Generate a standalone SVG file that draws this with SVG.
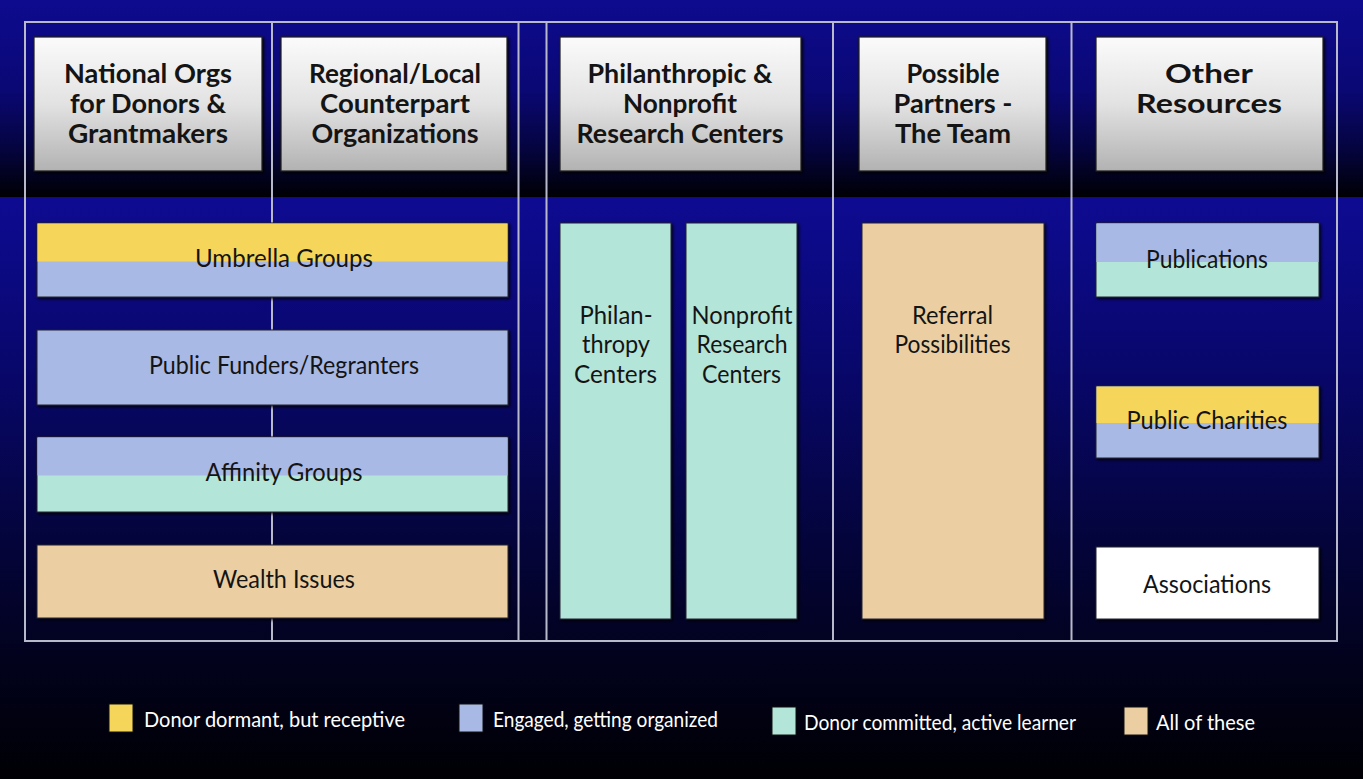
<svg xmlns="http://www.w3.org/2000/svg" width="1363" height="779" viewBox="0 0 1363 779">
  <defs>
    <linearGradient id="bgTop" gradientUnits="userSpaceOnUse" x1="0" y1="0" x2="0" y2="197">
      <stop offset="0" stop-color="#0e0b8f"/>
      <stop offset="0.45" stop-color="#0a0874"/>
      <stop offset="0.75" stop-color="#050440"/>
      <stop offset="1" stop-color="#000004"/>
    </linearGradient>
    <linearGradient id="bgBottom" gradientUnits="userSpaceOnUse" x1="0" y1="197" x2="0" y2="779">
      <stop offset="0" stop-color="#0e0b92"/>
      <stop offset="0.3" stop-color="#08076a"/>
      <stop offset="0.6" stop-color="#04043a"/>
      <stop offset="0.8" stop-color="#02021c"/>
      <stop offset="1" stop-color="#000004"/>
    </linearGradient>
    <linearGradient id="headFill" x1="0" y1="0" x2="0" y2="1">
      <stop offset="0" stop-color="#fbfbfb"/>
      <stop offset="0.5" stop-color="#e2e2e2"/>
      <stop offset="1" stop-color="#b2b2b2"/>
    </linearGradient>
    <filter id="shadow" x="-10%" y="-10%" width="125%" height="125%">
      <feDropShadow dx="1.5" dy="1.5" stdDeviation="1.5" flood-color="#000" flood-opacity="0.9"/>
    </filter>
  </defs>
  <style>
    .frame { stroke: #b9b9cc; stroke-width: 2; fill: none; }
    .head { fill: url(#headFill); stroke: #1c1c1c; stroke-width: 1.2; filter: url(#shadow); }
    .headText { font-family: Lato, "Liberation Sans", sans-serif; font-weight: 700; font-size: 27px; fill: #141414; text-anchor: middle; }
    .box { stroke: #202030; stroke-width: 1; filter: url(#shadow); }
    .band { stroke: none; }
    .label { font-family: Lato, "Liberation Sans", sans-serif; font-size: 25px; fill: #141414; text-anchor: middle; }
    .yellow { fill: #f6d65a; }
    .blue { fill: #a9b9e5; }
    .teal { fill: #b4e5d9; }
    .tan { fill: #ebcfa3; }
    .white { fill: #ffffff; }
    .swatch { stroke: #101010; stroke-width: 1; }
    .legendText { font-family: Lato, "Liberation Sans", sans-serif; font-size: 22px; fill: #ffffff; }
  </style>

  <!-- background -->
  <rect x="0" y="0" width="1363" height="197" fill="url(#bgTop)"/>
  <rect x="0" y="197" width="1363" height="582" fill="url(#bgBottom)"/>

  <!-- column frame lines -->
  <g id="connectors">
    <line class="frame" x1="24" y1="22" x2="1338" y2="22"/>
    <line class="frame" x1="24" y1="641" x2="1338" y2="641" stroke-width="2.5"/>
    <line class="frame" x1="25" y1="22" x2="25" y2="641"/>
    <line class="frame" x1="272" y1="22" x2="272" y2="641"/>
    <line class="frame" x1="518.5" y1="22" x2="518.5" y2="641"/>
    <line class="frame" x1="546.5" y1="22" x2="546.5" y2="641"/>
    <line class="frame" x1="833" y1="22" x2="833" y2="641"/>
    <line class="frame" x1="1071.5" y1="22" x2="1071.5" y2="641"/>
    <line class="frame" x1="1337" y1="22" x2="1337" y2="641"/>
  </g>

  <!-- column headers -->
  <g id="head-national">
    <rect class="head" x="34" y="37" width="228" height="134"/>
    <text class="headText" x="148" y="83" textLength="168" lengthAdjust="spacingAndGlyphs">National Orgs</text>
    <text class="headText" x="148" y="113" textLength="156" lengthAdjust="spacingAndGlyphs">for Donors &amp;</text>
    <text class="headText" x="148" y="143" textLength="160" lengthAdjust="spacingAndGlyphs">Grantmakers</text>
  </g>
  <g id="head-regional">
    <rect class="head" x="281" y="37" width="226" height="134"/>
    <text class="headText" x="395" y="83" textLength="172" lengthAdjust="spacingAndGlyphs">Regional/Local</text>
    <text class="headText" x="395" y="113" textLength="150" lengthAdjust="spacingAndGlyphs">Counterpart</text>
    <text class="headText" x="395" y="143" textLength="167" lengthAdjust="spacingAndGlyphs">Organizations</text>
  </g>
  <g id="head-research">
    <rect class="head" x="560" y="37" width="241" height="134"/>
    <text class="headText" x="680" y="83" textLength="185" lengthAdjust="spacingAndGlyphs">Philanthropic &amp;</text>
    <text class="headText" x="680" y="113" textLength="114" lengthAdjust="spacingAndGlyphs">Nonprofit</text>
    <text class="headText" x="680" y="143" textLength="207" lengthAdjust="spacingAndGlyphs">Research Centers</text>
  </g>
  <g id="head-partners">
    <rect class="head" x="859" y="37" width="187" height="134"/>
    <text class="headText" x="953" y="83" textLength="93" lengthAdjust="spacingAndGlyphs">Possible</text>
    <text class="headText" x="953" y="113" textLength="119" lengthAdjust="spacingAndGlyphs">Partners -</text>
    <text class="headText" x="953" y="143" textLength="116" lengthAdjust="spacingAndGlyphs">The Team</text>
  </g>
  <g id="head-other">
    <rect class="head" x="1096" y="37" width="227" height="134"/>
    <text class="headText" x="1209" y="83" textLength="88" lengthAdjust="spacingAndGlyphs">Other</text>
    <text class="headText" x="1209" y="113" textLength="146" lengthAdjust="spacingAndGlyphs">Resources</text>
  </g>

  <!-- left block: national and regional organisations -->
  <g id="umbrella-groups">
    <rect class="box blue" x="37" y="223" width="471" height="74"/>
    <rect class="band yellow" x="37.5" y="223.5" width="470" height="38"/>
    <text class="label" x="284" y="267" textLength="178" lengthAdjust="spacingAndGlyphs">Umbrella Groups</text>
  </g>
  <g id="public-funders">
    <rect class="box blue" x="37" y="330" width="471" height="75"/>
    <text class="label" x="284" y="374" textLength="270" lengthAdjust="spacingAndGlyphs">Public Funders/Regranters</text>
  </g>
  <g id="affinity-groups">
    <rect class="box teal" x="37" y="437" width="471" height="75"/>
    <rect class="band blue" x="37.5" y="437.5" width="470" height="38"/>
    <text class="label" x="284" y="481" textLength="157" lengthAdjust="spacingAndGlyphs">Affinity Groups</text>
  </g>
  <g id="wealth-issues">
    <rect class="box tan" x="37" y="545" width="471" height="73"/>
    <text class="label" x="284" y="588" textLength="142" lengthAdjust="spacingAndGlyphs">Wealth Issues</text>
  </g>

  <!-- research centres -->
  <g id="philanthropy-centers">
    <rect class="box teal" x="560" y="223" width="111" height="396"/>
    <text class="label" x="616" y="324" textLength="73" lengthAdjust="spacingAndGlyphs">Philan-</text>
    <text class="label" x="616" y="353" textLength="68" lengthAdjust="spacingAndGlyphs">thropy</text>
    <text class="label" x="615.5" y="383" textLength="83" lengthAdjust="spacingAndGlyphs">Centers</text>
  </g>
  <g id="nonprofit-research-centers">
    <rect class="box teal" x="686" y="223" width="111" height="396"/>
    <text class="label" x="742" y="324" textLength="101" lengthAdjust="spacingAndGlyphs">Nonprofit</text>
    <text class="label" x="742" y="353" textLength="91" lengthAdjust="spacingAndGlyphs">Research</text>
    <text class="label" x="741.5" y="383" textLength="79" lengthAdjust="spacingAndGlyphs">Centers</text>
  </g>

  <!-- partners -->
  <g id="referral-possibilities">
    <rect class="box tan" x="862" y="223" width="182" height="396"/>
    <text class="label" x="952.5" y="324" textLength="81" lengthAdjust="spacingAndGlyphs">Referral</text>
    <text class="label" x="952.5" y="353" textLength="116" lengthAdjust="spacingAndGlyphs">Possibilities</text>
  </g>

  <!-- other resources -->
  <g id="publications">
    <rect class="box teal" x="1096" y="223" width="223" height="74"/>
    <rect class="band blue" x="1096.5" y="223.5" width="222" height="38.5"/>
    <text class="label" x="1207" y="268" textLength="122" lengthAdjust="spacingAndGlyphs">Publications</text>
  </g>
  <g id="public-charities">
    <rect class="box blue" x="1096" y="386" width="223" height="72"/>
    <rect class="band yellow" x="1096.5" y="386.5" width="222" height="36.5"/>
    <text class="label" x="1207" y="429" textLength="161" lengthAdjust="spacingAndGlyphs">Public Charities</text>
  </g>
  <g id="associations">
    <rect class="box white" x="1096" y="547" width="223" height="72"/>
    <text class="label" x="1207" y="593" textLength="128" lengthAdjust="spacingAndGlyphs">Associations</text>
  </g>

  <!-- legend -->
  <g id="legend">
    <rect class="swatch yellow" x="109" y="704" width="24" height="28"/>
    <text class="legendText" x="144" y="727" textLength="261" lengthAdjust="spacingAndGlyphs">Donor dormant, but receptive</text>
    <rect class="swatch blue" x="459" y="704" width="24" height="28"/>
    <text class="legendText" x="493" y="727" textLength="225" lengthAdjust="spacingAndGlyphs">Engaged, getting organized</text>
    <rect class="swatch teal" x="772" y="707" width="24" height="28"/>
    <text class="legendText" x="804" y="730" textLength="272" lengthAdjust="spacingAndGlyphs">Donor committed, active learner</text>
    <rect class="swatch tan" x="1124" y="707" width="24" height="28"/>
    <text class="legendText" x="1156" y="730" textLength="99" lengthAdjust="spacingAndGlyphs">All of these</text>
  </g>
</svg>
